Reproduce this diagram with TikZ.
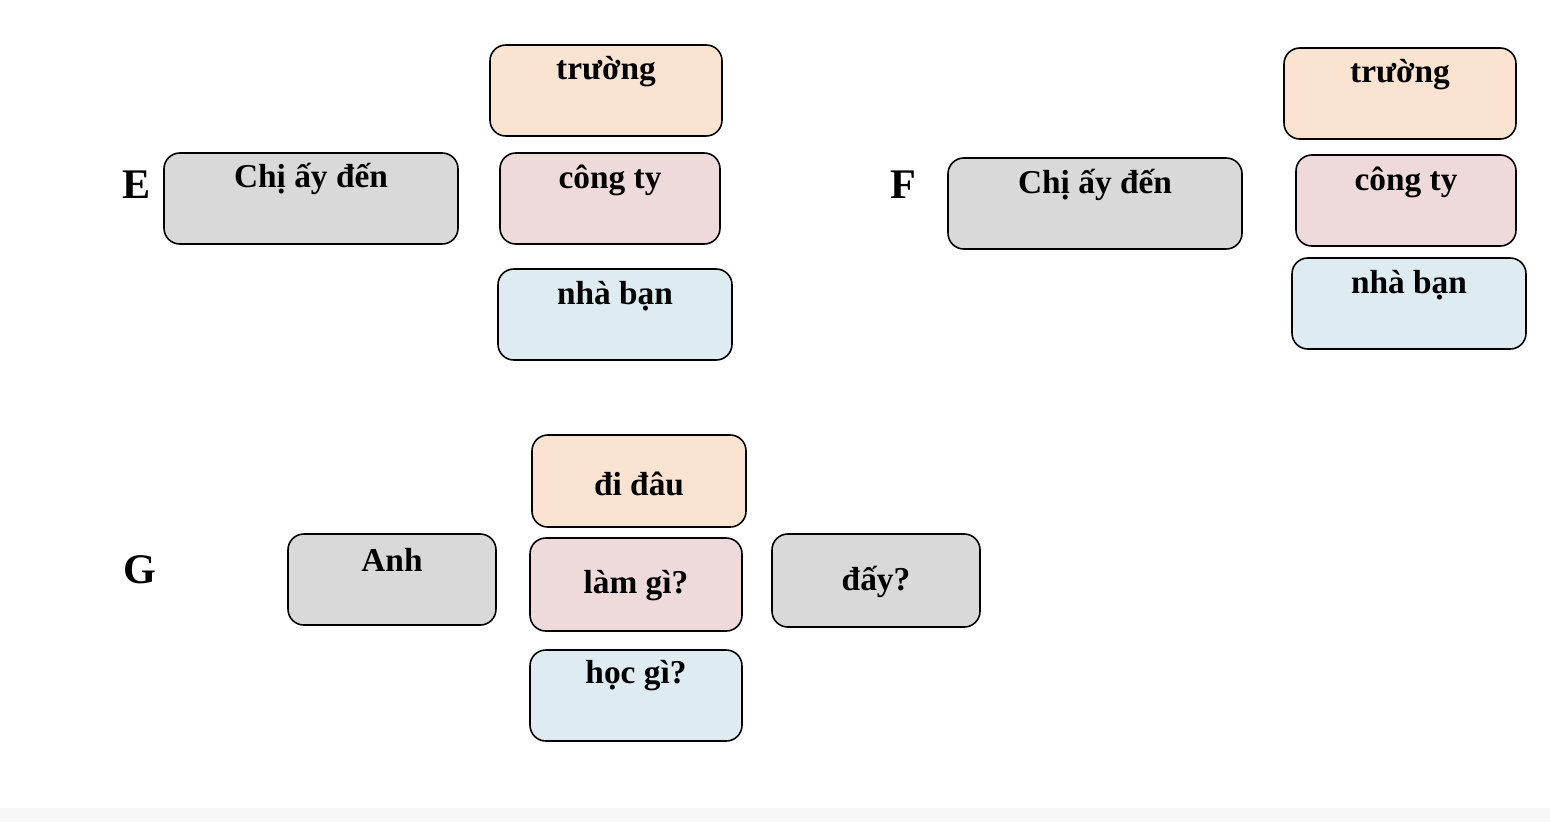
\documentclass[tikz,border=0pt]{standalone}
\usepackage{fontspec}
\setmainfont{Liberation Serif}
\definecolor{cpeach}{HTML}{FAE4D1}
\definecolor{cpink}{HTML}{EFDADB}
\definecolor{cblue}{HTML}{DEEBF0}
\definecolor{cgray}{HTML}{D9D9D9}
\newcommand{\bx}[9]{%
  \node[box,fill=#6,minimum width={(#4-#2)*0.02cm},minimum height={(#5-#3)*0.02cm}] (#1) at ({(#2+#4)/2},{(#3+#5)/2}) {};
  \node[txt] (#1t) at (#7,#8) {#9};}
\begin{document}
\begin{tikzpicture}[x=0.02cm,y=-0.02cm,
  box/.style={draw,line width=0.9pt,rounded corners=9pt,inner sep=0pt},
  txt/.style={font=\fontsize{19}{23}\selectfont\bfseries,inner sep=0pt}]
\useasboundingbox (0,0) rectangle (1550,822);
\fill[black!3] (0,808) rectangle (1550,822);
\node[txt,font=\fontsize{24}{28}\selectfont\bfseries] (E) at (137,185) {E};
\node[txt,font=\fontsize{24}{28}\selectfont\bfseries] (F) at (903,185) {F};
\node[txt,font=\fontsize{24}{28}\selectfont\bfseries] (G) at (140,570) {G};
\bx{t1}{490}{45}{722}{136}{cpeach}{606}{72}{trường}
\bx{c1}{500}{153}{720}{244}{cpink}{610}{180}{công ty}
\bx{n1}{498}{269}{732}{360}{cblue}{615}{296}{nhà bạn}
\bx{s1}{164}{153}{458}{244}{cgray}{311}{179}{Chị ấy đến}
\bx{t2}{1284}{48}{1516}{139}{cpeach}{1400}{75}{trường}
\bx{c2}{1296}{155}{1516}{246}{cpink}{1406}{182}{công ty}
\bx{n2}{1292}{258}{1526}{349}{cblue}{1409}{285}{nhà bạn}
\bx{s2}{948}{158}{1242}{249}{cgray}{1095}{185}{Chị ấy đến}
\bx{d}{532}{435}{746}{527}{cpeach}{639}{484}{đi đâu}
\bx{l}{530}{538}{742}{631}{cpink}{636}{586}{làm gì?}
\bx{h}{530}{650}{742}{741}{cblue}{636}{676}{học gì?}
\bx{a}{288}{534}{496}{625}{cgray}{392}{560}{Anh}
\bx{y}{772}{534}{980}{627}{cgray}{876}{582}{đấy?}
\end{tikzpicture}
\end{document}
